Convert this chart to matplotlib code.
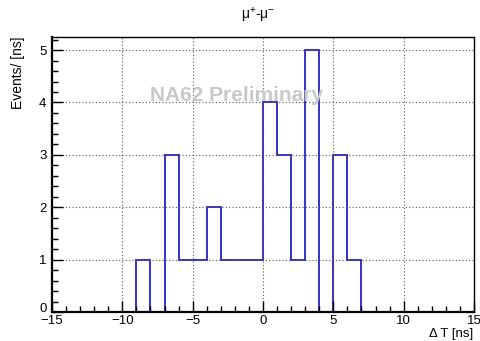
import numpy as np
import matplotlib
matplotlib.use("Agg")
import matplotlib.pyplot as plt
import matplotlib.transforms as mtransforms
from matplotlib.ticker import MultipleLocator

plt.rcParams['font.family'] = ['Liberation Sans', 'DejaVu Sans']
plt.rcParams['mathtext.fontset'] = 'custom'
plt.rcParams['mathtext.rm'] = 'Liberation Sans'
plt.rcParams['mathtext.it'] = 'Liberation Sans'

# Histogram: 1 ns bins from -15 to 15 ns
bin_edges = list(range(-15, 16))
counts = [0, 0, 0, 0, 0, 0, 1, 0, 3, 1, 1, 2, 1, 1, 1,
          4, 3, 1, 5, 0, 3, 1, 0, 0, 0, 0, 0, 0, 0, 0]
x_ticks = [-15, -10, -5, 0, 5, 10, 15]
x_tick_labels = ["\u221215", "\u221210", "\u22125", "0", "5", "10", "15"]
y_ticks = [0, 1, 2, 3, 4, 5]

fig = plt.figure(figsize=(4.81, 3.41), dpi=100)
ax = fig.add_axes([0.1081, 0.085, 0.8773, 0.8065])

ax.stairs(counts, bin_edges, color='#3434c8', linewidth=1.4, baseline=0)

ax.set_xlim(-15, 15)
ax.set_ylim(0, 5.25)
ax.set_xticks(x_ticks)
ax.set_xticklabels(x_tick_labels)
ax.set_yticks(y_ticks)
ax.xaxis.set_minor_locator(MultipleLocator(1))
ax.yaxis.set_minor_locator(MultipleLocator(0.2))
ax.tick_params(which='major', direction='in', length=8, width=1, labelsize=9.5,
               top=False, right=False)
ax.tick_params(axis='x', which='major', pad=2.5)
ax.tick_params(axis='y', which='major', pad=4)
ax.tick_params(which='minor', direction='in', length=4, width=1, top=False, right=False)
ax.grid(True, which='major', linestyle=(0, (1, 2)), color='#555555', linewidth=0.8)
for s in ax.spines.values():
    s.set_linewidth(1.0)
ax.spines['left'].set_linewidth(1.6)
ax.spines['bottom'].set_linewidth(1.6)

# nudge the "0" y tick label up a little, as in the reference
fig.canvas.draw()
ylab0 = ax.get_yticklabels()[0]
ylab0.set_transform(ylab0.get_transform() +
                    mtransforms.ScaledTranslation(0, 5 / 100, fig.dpi_scale_trans))

fig.text(0.537, 0.955, "\u03bc$^{+}$-\u03bc$^{-}$", ha='center', va='center', fontsize=10)
fig.text(473 / 481, 1 - 334 / 341, "\u0394 T [ns]", fontsize=9.5, ha='right', va='center')
ax.set_ylabel("Events/ [ns]", fontsize=10, ha='right', y=1.0, labelpad=10)

ax.text(-1.9, 4.14, "NA62 Preliminary", fontsize=15, fontweight='bold',
        color='#c8c8c8', ha='center', va='center', zorder=3)

fig.savefig("out.png", dpi=100)
